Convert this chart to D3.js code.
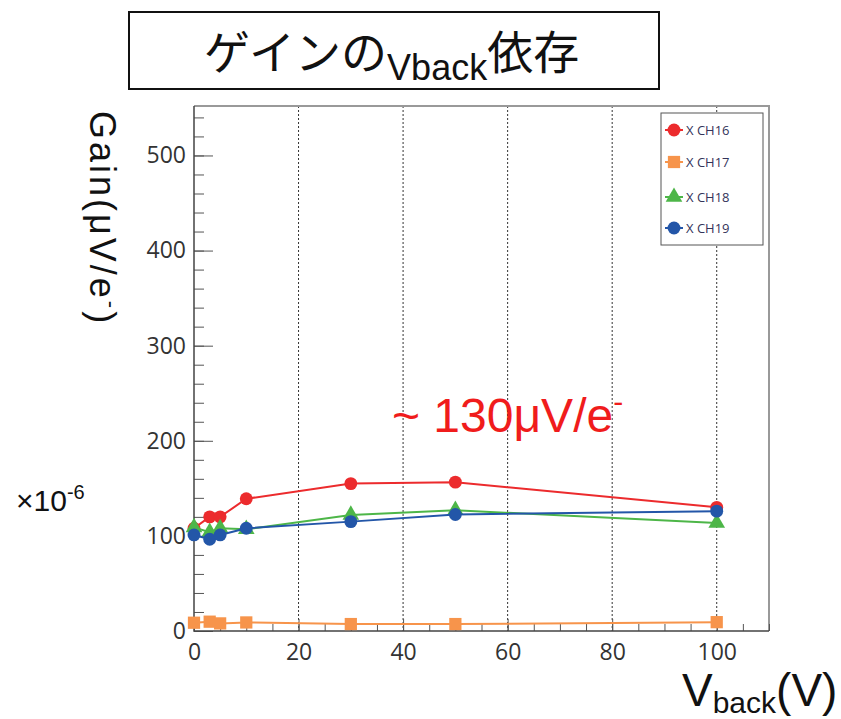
<!DOCTYPE html>
<html>
<head>
<meta charset="utf-8">
<script src="https://cdn.jsdelivr.net/npm/d3@7"></script>
<style>
  body { margin: 0; background: #fff; }
  svg { display: block; }
</style>
</head>
<body>
<div id="chart"></div>
<script>
// gain vs back-bias voltage
var vback = [0, 3, 5, 10, 30, 50, 100];
var ch16 = [108, 120, 120, 139, 155, 156.5, 130];
var ch17 = [8.7, 9.8, 8, 9, 7.3, 7.3, 9.3];
var ch18 = [109, 104, 108, 107, 122, 127, 113.5];
var ch19 = [101, 96.5, 101, 108, 115, 122.5, 126];

var seriesNames = ["X CH16", "X CH17", "X CH18", "X CH19"];
var seriesColors = ["#ec2b2d", "#f7944b", "#4db648", "#2356a8"];
var seriesShapes = [d3.symbolCircle, d3.symbolSquare, d3.symbolTriangle, d3.symbolCircle];
var seriesSizes = [130, 150, 120, 130];

var xMajor = [0, 20, 40, 60, 80, 100];
var xMinor = d3.range(0, 111, 5);
var yMajor = [0, 100, 200, 300, 400, 500];
var yMinor = d3.range(0, 541, 20);
var gridX = [20, 40, 60, 80, 100];

var W = 841, H = 719;
var pLeft = 194, pRight = 769, pTop = 106, pBottom = 631;

var svg = d3.select("#chart").append("svg")
    .attr("width", W)
    .attr("height", H);

var x = d3.scaleLinear().domain([0, 110]).range([pLeft, pRight]);
var y = d3.scaleLinear().domain([0, 552]).range([pBottom, pTop]);

// title box
svg.append("rect")
    .attr("x", 129).attr("y", 12)
    .attr("width", 530).attr("height", 77)
    .attr("fill", "#fff")
    .attr("stroke", "#111")
    .attr("stroke-width", 2);

var title = svg.append("text")
    .attr("x", 204).attr("y", 69)
    .attr("font-family", "'Noto Sans CJK JP', sans-serif")
    .attr("font-size", 46)
    .attr("fill", "#111");
title.append("tspan").text("ゲインの");
title.append("tspan")
    .attr("font-family", "'Liberation Sans', Arial, sans-serif")
    .attr("font-size", 36)
    .attr("dy", 11)
    .text("Vback");
title.append("tspan")
    .attr("font-family", "'Noto Sans CJK JP', sans-serif")
    .attr("dy", -11)
    .text("依存");

// dotted vertical grid
svg.append("g").selectAll("line")
    .data(gridX)
    .enter().append("line")
    .attr("x1", function(d) { return x(d); })
    .attr("x2", function(d) { return x(d); })
    .attr("y1", pTop).attr("y2", pBottom)
    .attr("stroke", "#333")
    .attr("stroke-width", 1)
    .attr("stroke-dasharray", "2,2");

// frame: top and right in gray
svg.append("path")
    .attr("d", "M" + pLeft + "," + pTop + "H" + pRight + "V" + pBottom)
    .attr("fill", "none")
    .attr("stroke", "#999")
    .attr("stroke-width", 2);

// y axis, ticks pointing into the plot
var yMinorAxis = d3.axisLeft(y).tickValues(yMinor).tickSize(-10).tickFormat("");
svg.append("g")
    .attr("transform", "translate(" + pLeft + ",0)")
    .call(yMinorAxis)
    .call(function(g) { g.select(".domain").remove(); })
    .selectAll("line").attr("stroke", "#555");

var yAxis = d3.axisLeft(y).tickValues(yMajor).tickSize(-19).tickPadding(8);
var yg = svg.append("g")
    .attr("transform", "translate(" + pLeft + ",0)")
    .call(yAxis);
yg.select(".domain").remove();
yg.selectAll("line").attr("stroke", "#555");
yg.selectAll("text")
    .attr("font-family", "'Open Sans', sans-serif")
    .attr("font-size", 23)
    .attr("fill", "#333");

// x axis, ticks pointing up
var xMinorAxis = d3.axisBottom(x).tickValues(xMinor).tickSize(-7).tickFormat("");
svg.append("g")
    .attr("transform", "translate(0," + pBottom + ")")
    .call(xMinorAxis)
    .call(function(g) { g.select(".domain").remove(); })
    .selectAll("line").attr("stroke", "#555");

var xAxis = d3.axisBottom(x).tickValues(xMajor).tickSize(-12).tickPadding(13);
var xg = svg.append("g")
    .attr("transform", "translate(0," + pBottom + ")")
    .call(xAxis);
xg.select(".domain").remove();
xg.selectAll("line").attr("stroke", "#555");
xg.selectAll("text")
    .attr("font-family", "'Open Sans', sans-serif")
    .attr("font-size", 23)
    .attr("fill", "#333");

// left and bottom axis lines
svg.append("path")
    .attr("d", "M" + pLeft + "," + pTop + "V" + pBottom + "H" + pRight)
    .attr("fill", "none")
    .attr("stroke", "#444")
    .attr("stroke-width", 1.5);

// series
var allSeries = [ch16, ch17, ch18, ch19];
var line = d3.line()
    .x(function(d) { return x(d[0]); })
    .y(function(d) { return y(d[1]); });

allSeries.forEach(function(vals, i) {
    var pts = vback.map(function(v, j) { return [v, vals[j]]; });
    svg.append("path")
        .datum(pts)
        .attr("d", line)
        .attr("fill", "none")
        .attr("stroke", seriesColors[i])
        .attr("stroke-width", 2);
    svg.append("g").selectAll("path")
        .data(pts)
        .enter().append("path")
        .attr("transform", function(d) { return "translate(" + x(d[0]) + "," + y(d[1]) + ")"; })
        .attr("d", d3.symbol().type(seriesShapes[i]).size(seriesSizes[i]))
        .attr("fill", seriesColors[i]);
});

// legend
svg.append("rect")
    .attr("x", 661).attr("y", 113)
    .attr("width", 102).attr("height", 132)
    .attr("fill", "#fff")
    .attr("stroke", "#555")
    .attr("stroke-width", 1);

var legendY = [130, 162, 197, 228];
var lg = svg.append("g").selectAll("g")
    .data(seriesNames)
    .enter().append("g")
    .attr("transform", function(d, i) { return "translate(0," + legendY[i] + ")"; });
lg.append("line")
    .attr("x1", 665).attr("x2", 683)
    .attr("stroke", function(d, i) { return seriesColors[i]; })
    .attr("stroke-width", 2);
lg.append("path")
    .attr("transform", "translate(674,0)")
    .attr("d", function(d, i) { return d3.symbol().type(seriesShapes[i]).size(seriesSizes[i])(); })
    .attr("fill", function(d, i) { return seriesColors[i]; });
lg.append("text")
    .attr("x", 686).attr("y", 5)
    .attr("font-family", "'Open Sans', sans-serif")
    .attr("font-size", 13)
    .attr("fill", "#33335a")
    .text(function(d) { return d; });

// y label, rotated
var yl = svg.append("text")
    .attr("transform", "translate(90,111) rotate(90)")
    .attr("font-family", "'Liberation Sans', Arial, sans-serif")
    .attr("font-size", 36)
    .attr("letter-spacing", 3)
    .attr("fill", "#111");
yl.append("tspan").text("Gain(μV/e");
yl.append("tspan").attr("font-size", 22).attr("dy", -14).text("-");
yl.append("tspan").attr("dy", 14).text(")");

// x label
var xl = svg.append("text")
    .attr("x", 682).attr("y", 706)
    .attr("font-family", "'Liberation Sans', Arial, sans-serif")
    .attr("font-size", 46)
    .attr("fill", "#111");
xl.append("tspan").text("V");
xl.append("tspan").attr("font-size", 30).attr("dy", 7).text("back");
xl.append("tspan").attr("dy", -7).text("(V)");

// scale factor
var sf = svg.append("text")
    .attr("x", 16).attr("y", 511)
    .attr("font-family", "'Liberation Sans', Arial, sans-serif")
    .attr("font-size", 30)
    .attr("fill", "#111");
sf.append("tspan").text("×10");
sf.append("tspan").attr("font-size", 20).attr("dy", -12).text("-6");

// annotation
var ann = svg.append("text")
    .attr("x", 392).attr("y", 432)
    .attr("font-family", "'Liberation Sans', Arial, sans-serif")
    .attr("font-size", 48)
    .attr("fill", "#f01c1c");
ann.append("tspan").text("~ 130μV/e");
ann.append("tspan").attr("font-size", 30).attr("dy", -20).text("-");
</script>
</body>
</html>
